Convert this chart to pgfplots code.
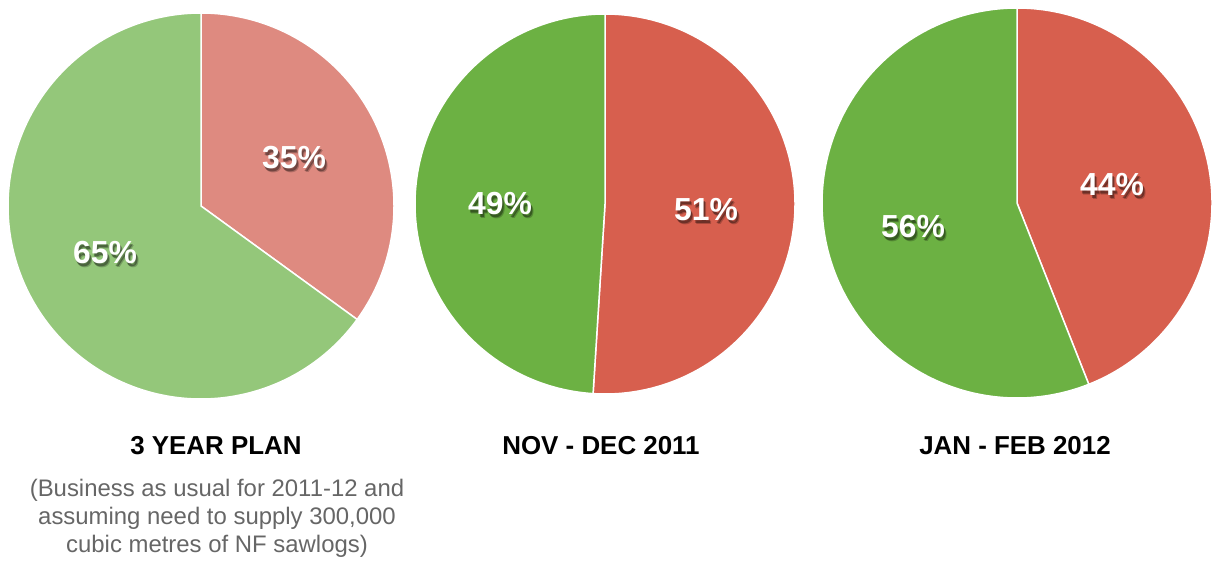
\documentclass[border=0pt]{standalone}
\usepackage{fontspec}
\setmainfont{Liberation Sans}
\usepackage{pgfplots}
\pgfplotsset{compat=1.18}

\definecolor{lgreen}{HTML}{94C77A}
\definecolor{lred}{HTML}{DE8A80}
\definecolor{dgreen}{HTML}{6CB143}
\definecolor{dred}{HTML}{D75F4E}
\definecolor{subgray}{HTML}{666666}

\pgfplotsset{
  pie/.style={
    scale only axis, hide axis, clip=false,
    xmin=-1, xmax=1, ymin=-1, ymax=1,
    anchor=center,
  },
  wedge/.style={draw=white, line width=1.5pt, samples=120, smooth},
}

% white label with a soft dark shadow
\newcommand{\pct}[3]{%
  \node[text=black, opacity=0.22, font=\fontsize{32}{34}\selectfont\bfseries] at (#1+2.5,#2+3.5) {#3};
  \node[text=black, opacity=0.35, font=\fontsize{32}{34}\selectfont\bfseries] at (#1+1.5,#2+2.5) {#3};
  \node[text=white, font=\fontsize{32}{34}\selectfont\bfseries] at (#1,#2) {#3};
}

\begin{document}
\begin{tikzpicture}[x=1bp, y=-1bp]
\path[use as bounding box] (0,0) rectangle (1213,561);

% 3 year plan: 35 / 65
\begin{axis}[pie, at={(201bp,-206bp)}, width=386bp, height=386bp]
  \addplot[wedge, fill=lred, domain=-36:90] ({cos(x)},{sin(x)}) -- (0,0) -- cycle;
  \addplot[wedge, fill=lgreen, domain=-270:-36] ({cos(x)},{sin(x)}) -- (0,0) -- cycle;
\end{axis}

% Nov - Dec 2011: 51 / 49
\begin{axis}[pie, at={(605bp,-204bp)}, width=380bp, height=380bp]
  \addplot[wedge, fill=dred, domain=-93.6:90] ({cos(x)},{sin(x)}) -- (0,0) -- cycle;
  \addplot[wedge, fill=dgreen, domain=-270:-93.6] ({cos(x)},{sin(x)}) -- (0,0) -- cycle;
\end{axis}

% Jan - Feb 2012: 44 / 56
\begin{axis}[pie, at={(1017bp,-203bp)}, width=390bp, height=390bp]
  \addplot[wedge, fill=dred, domain=-68.4:90] ({cos(x)},{sin(x)}) -- (0,0) -- cycle;
  \addplot[wedge, fill=dgreen, domain=-270:-68.4] ({cos(x)},{sin(x)}) -- (0,0) -- cycle;
\end{axis}

\pct{294}{158}{35\%}
\pct{105}{253}{65\%}
\pct{500}{204}{49\%}
\pct{706}{210}{51\%}
\pct{1112}{185}{44\%}
\pct{913}{227}{56\%}

\node[font=\fontsize{26}{28}\selectfont\bfseries] at (216,446) {3 YEAR PLAN};
\node[font=\fontsize{26}{28}\selectfont\bfseries] at (601,446) {NOV - DEC 2011};
\node[font=\fontsize{26}{28}\selectfont\bfseries] at (1015,446) {JAN - FEB 2012};
\node[text=subgray, align=center, font=\fontsize{24}{28}\selectfont] at (217,518)
  {(Business as usual for 2011-12 and\\assuming need to supply 300,000\\cubic metres of NF sawlogs)};
\end{tikzpicture}
\end{document}
